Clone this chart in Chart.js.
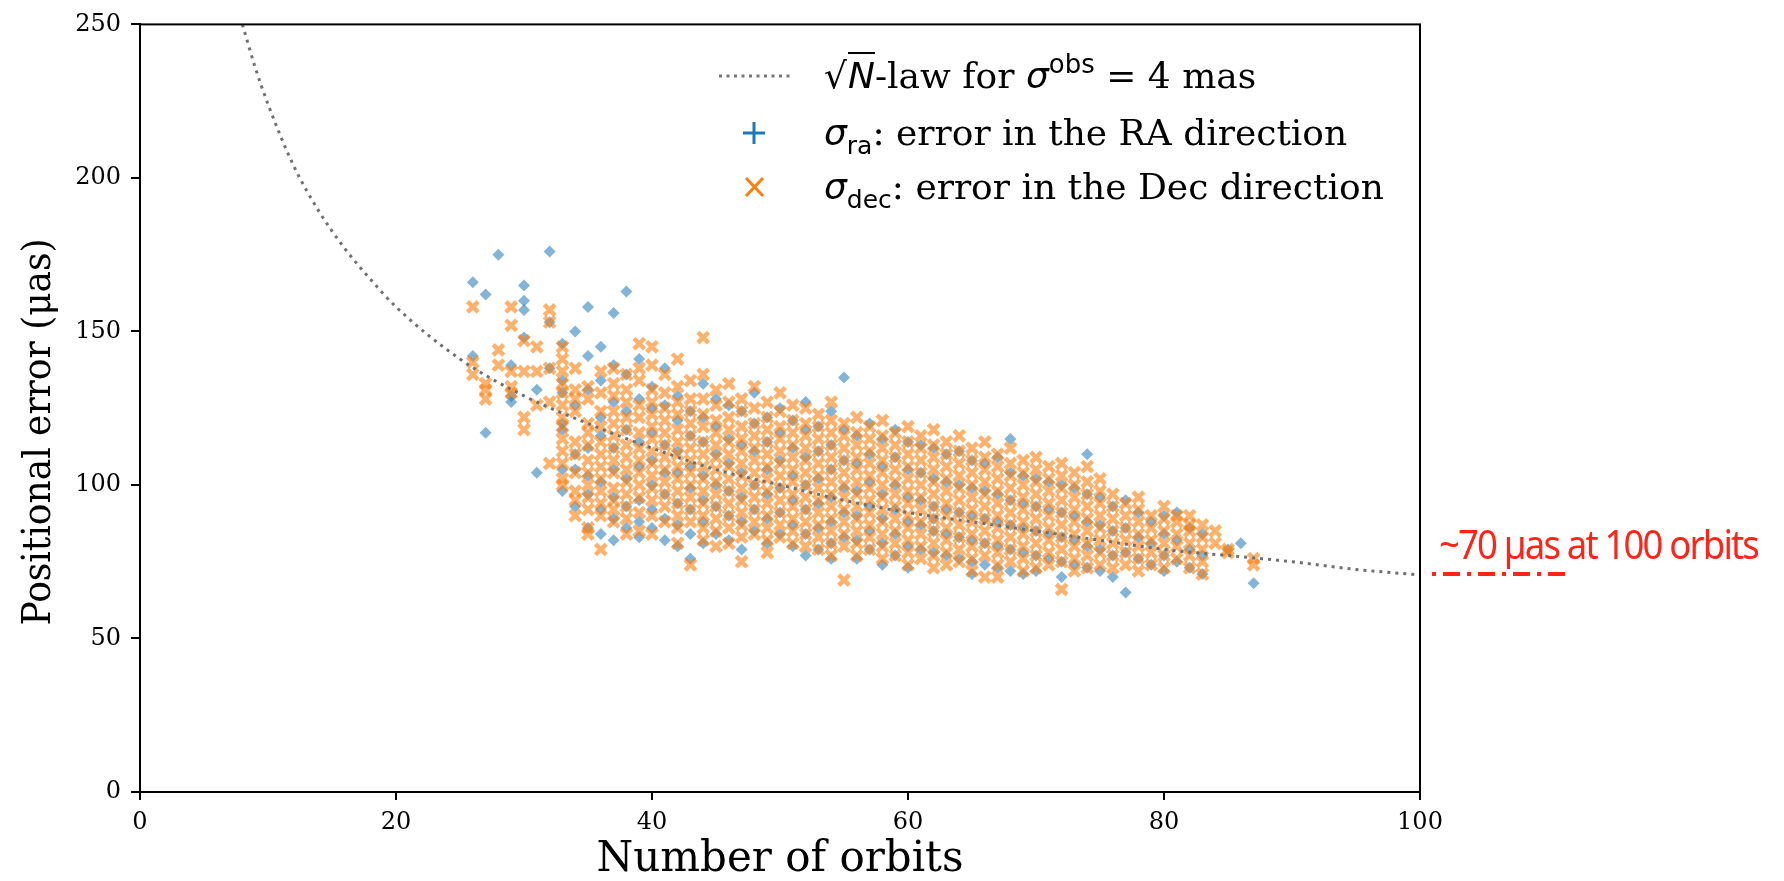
<!DOCTYPE html>
<html><head><meta charset="utf-8">
<script src="https://cdn.jsdelivr.net/npm/chart.js@4.4.1/dist/chart.umd.min.js"></script>
<style>
html,body{margin:0;padding:0;background:#fff;overflow:hidden;}
#wrap{position:relative;width:1784px;height:881px;}
#c{position:absolute;left:0;top:0;}
.leg{position:absolute;left:824px;height:44px;font-family:'DejaVu Serif';font-size:36px;line-height:44px;white-space:nowrap;color:#000;}
.m{font-family:'DejaVu Sans';font-style:italic;}
.sb{font-family:'DejaVu Sans';font-size:25px;line-height:0;vertical-align:-9px;}
.sp{font-family:'DejaVu Sans';font-size:26px;line-height:0;vertical-align:15px;}
.ov{border-top:2px solid #000;padding-top:1px;margin-left:1px;}
#anno{position:absolute;left:1439px;top:519px;color:#ff2318;font-family:'Noto Sans';font-size:40px;line-height:50px;white-space:nowrap;letter-spacing:-2px;transform-origin:0 50%;display:inline-block;}
</style></head>
<body>
<div id="wrap">
<canvas id="c" width="1784" height="881"></canvas>
<div class="leg" style="top:54px;">√<span class="m ov">N</span>-law for <span class="m">σ</span><span class="sp">obs</span> = 4 mas</div>
<div class="leg" style="top:111px;"><span class="m">σ</span><span class="sb">ra</span>: error in the RA direction</div>
<div class="leg" style="top:165px;"><span class="m">σ</span><span class="sb">dec</span>: error in the Dec direction</div>
<span id="anno">~70 µas at 100 orbits</span>
</div>
<script>
// ---- data ----
const orbits = [26,27,28,29,30,31,32,33,34,35,36,37,38,39,40,41,42,43,44,45,46,47,48,49,50,51,52,53,54,55,56,57,58,59,60,61,62,63,64,65,66,67,68,69,70,71,72,73,74,75,76,77,78,79,80,81,82,83,84,85,86,87];
const raErrors = [
 [166,142],[162,117],[175],[139,129,127],[165,160,157,148],[131,104],[176,153,138],
 [146,134,130,120,118,105,98],[150,126,110,105,93],[158,142,131,112,103,97,86],[145,134,122,116,101,92,84],
 [156,139,127,112,105,96,89,82],[163,136,124,118,102,93,86],[141,128,114,106,95,88,83],[132,125,117,108,100,92,86],
 [138,126,113,104,97,89,82],[129,121,111,104,94,87,80],[124,116,106,99,92,84,76],[133,122,114,103,95,88,81],
 [128,119,110,100,93,84],[126,115,107,98,90,82],[124,113,104,96,88,79],[130,120,111,100,92,85],
 [122,114,105,97,89,81],[125,117,108,99,91,84],[121,112,103,95,87,80],[127,118,109,100,92,84,77],
 [119,111,102,94,86,79],[124,113,105,96,88,81,76],[135,118,108,99,91,83],[116,107,98,90,82,76],
 [120,110,101,93,85,79],[115,106,97,89,81,74],[118,109,100,92,84,77],[114,105,96,88,80,73],
 [113,104,95,87,79],[112,102,93,89,85,78],[110,101,92,84,77],[111,100,91,83,76],
 [108,99,90,82,75,71],[107,98,89,81,74],[109,97,88,80,73],[115,104,95,87,79,72],
 [103,94,86,78,71],[102,93,85,77,72],[101,92,84,76],[100,91,83,75,70],
 [99,90,82,74],[110,97,88,80,73],[96,87,79,72],[93,85,77,70],
 [95,86,78,65],[91,83,76],[88,81,74],[90,84,77,72],[91,82,75],[86,79,73],[84,77,71],
 [],[79],[81],[68]
];
const decErrors = [
 [158,136,140],[131,128,133],[144,139],[158,152,137,132,130],[147,137,122,118],[137,126,145],[157,153,138,127,107],
 [145,141,137,133,130,126,122,119,115,111,107,102,100],[138,131,128,124,114,110,104,98,95,90],
 [132,128,120,117,113,108,104,100,96,92,86,84],[137,130,124,119,114,110,106,102,98,94,90,79],
 [138,133,129,124,120,116,112,108,104,99,95,92,88],[136,131,127,122,118,113,109,105,101,97,93,89,84],
 [146,138,134,126,122,117,112,108,104,100,96,91,85],[145,139,131,127,123,119,115,111,107,103,99,95,90,84],
 [136,130,125,121,117,113,109,105,101,97,93,88],[141,132,127,123,118,114,110,106,102,98,94,90,86,81],
 [134,128,124,120,116,112,108,104,100,96,92,88,74],[148,136,128,123,119,114,110,106,102,98,94,90,86,82],
 [131,126,121,117,113,109,105,101,97,93,89,85,80],[133,127,122,118,114,110,106,102,98,94,90,86,81],
 [128,124,119,115,111,107,103,99,95,91,87,83,75],[132,125,120,116,112,108,104,100,96,92,88,84],
 [127,122,118,114,110,106,102,98,94,90,86,82,78],[130,124,119,115,111,107,103,99,95,91,87,83],
 [126,121,117,113,109,105,101,97,93,89,85,81],[125,120,116,112,108,104,100,96,92,88,84,80],
 [123,119,115,111,107,103,99,95,91,87,83,79],[127,121,117,113,109,105,101,97,93,89,85,81,77],
 [120,116,112,108,104,100,96,92,88,84,80,69],[122,117,113,109,105,101,97,93,89,85,81,77],
 [119,115,111,107,103,99,95,91,87,83,79],[121,116,112,108,104,100,96,92,88,84,80,76],
 [117,113,109,105,101,97,93,89,85,81,77],[119,114,110,106,102,98,94,90,86,82,78,74],
 [116,112,108,104,100,96,92,88,84,80,76],[118,113,109,105,101,97,93,89,85,81,77,73],
 [114,110,106,102,98,94,90,86,82,78,74],[116,111,107,103,99,95,91,87,83,79,75],
 [112,108,104,100,96,92,88,84,80,76,72],[114,109,105,101,97,93,89,85,81,77,70],
 [110,106,102,98,94,90,86,82,78,74,70],[112,107,103,99,95,91,87,83,79,75],
 [108,104,100,96,92,88,84,80,76,72],[109,105,101,97,93,89,85,81,77,73],
 [106,102,98,94,90,86,82,78,74],[107,103,99,95,91,87,83,79,75,66],
 [104,100,96,92,88,84,80,76,72],[106,101,97,93,89,85,81,77,73],
 [102,98,94,90,86,82,78,74],[97,93,89,85,81,77,73],[94,90,86,82,78,74],[96,92,88,84,80,76,72],
 [90,86,82,78,74],[93,89,85,81,77,73],[90,88,84,80,76],[90,87,85,81,77,73],[87,83,79,75,71],
 [85,81],[79,78],[],[74,76]
];
// sqrt(N) law curve
const lawOrbits = [8,9,10,12,14,16,18,20,25,30,35,40,45,50,55,60,65,70,75,80,85,90,95,100];
const lawError  = [250,236,224,204,189,177,167,158,141,129,120,112,105,100,95,91,88,85,82,79,77,75,72.5,70.7];
const xTicks = [0,20,40,60,80,100];
const yTicks = [0,50,100,150,200,250];
const yTitle = 'Positional error (μas)';

const raPts = [], decPts = [];
orbits.forEach((n,i)=>{ raErrors[i].forEach(v=>raPts.push({x:n,y:v})); decErrors[i].forEach(v=>decPts.push({x:n,y:v})); });
const lawPts = lawOrbits.map((n,i)=>({x:n,y:lawError[i]}));

const extras = {
  id:'extras',
  afterDraw(chart){
    const ctx = chart.ctx, a = chart.chartArea;
    ctx.save();
    ctx.strokeStyle = '#000'; ctx.lineWidth = 2;
    ctx.strokeRect(a.left, a.top, a.right-a.left, a.bottom-a.top);
    // y axis title (drawn as text, condensed like the reference)
    ctx.save();
    ctx.translate(40, 432); ctx.rotate(-Math.PI/2); ctx.scale(0.9, 1);
    ctx.font = '40px "DejaVu Serif"'; ctx.fillStyle = '#000';
    ctx.textAlign = 'center'; ctx.textBaseline = 'middle';
    ctx.fillText(yTitle, 0, 0);
    ctx.restore();
    // legend markers
    ctx.strokeStyle = '#777'; ctx.lineWidth = 3; ctx.setLineDash([3,4.5]);
    ctx.beginPath(); ctx.moveTo(719,76); ctx.lineTo(792,76); ctx.stroke();
    ctx.setLineDash([]);
    ctx.strokeStyle = '#1f77b4'; ctx.lineWidth = 3;
    ctx.beginPath(); ctx.moveTo(743,133); ctx.lineTo(765,133); ctx.moveTo(754,122); ctx.lineTo(754,144); ctx.stroke();
    ctx.strokeStyle = '#ff7f0e';
    ctx.beginPath(); ctx.moveTo(746,178); ctx.lineTo(763,196); ctx.moveTo(763,178); ctx.lineTo(746,196); ctx.stroke();
    // red dash-dot marker line under annotation
    ctx.strokeStyle = '#ff2318'; ctx.lineWidth = 4; ctx.setLineDash([4,7,17,7]);
    ctx.beginPath(); ctx.moveTo(1432,574); ctx.lineTo(1568,574); ctx.stroke();
    ctx.restore();
  }
};

new Chart(document.getElementById('c'), {
  type:'scatter',
  data:{ datasets:[
    {type:'line', label:'law', data:lawPts, borderColor:'#707070', borderWidth:3, borderDash:[3,5], pointRadius:0, cubicInterpolationMode:'monotone', fill:false, order:0},
    {label:'dec', data:decPts, pointStyle:'crossRot', pointRadius:7.5, borderColor:'rgba(255,127,14,0.6)', borderWidth:4.5, backgroundColor:'rgba(255,127,14,0.6)', order:1},
    {label:'ra', data:raPts, pointStyle:'rectRot', pointRadius:6, backgroundColor:'rgba(31,119,180,0.55)', borderWidth:0, borderColor:'rgba(0,0,0,0)', order:2}
  ]},
  options:{
    responsive:false, animation:false, devicePixelRatio:1,
    layout:{padding:{left:0,right:364,top:19,bottom:0}},
    plugins:{legend:{display:false}, tooltip:{enabled:false}},
    scales:{
      x:{type:'linear', min:0, max:100, afterFit(s){s.height=89;},
         afterBuildTicks(s){s.ticks = xTicks.map(v=>({value:v}));},
         ticks:{font:{family:'DejaVu Serif',size:24}, color:'#000', padding:8},
         grid:{drawOnChartArea:false, drawTicks:true, tickLength:8, color:'#000', lineWidth:2},
         border:{display:true,color:'#000',width:2},
         title:{display:true, text:'Number of orbits', font:{family:'DejaVu Serif',size:42,lineHeight:1}, color:'#000', padding:{top:0,bottom:0}}},
      y:{min:0, max:250, afterFit(s){s.width=140;},
         afterBuildTicks(s){s.ticks = yTicks.map(v=>({value:v}));},
         ticks:{font:{family:'DejaVu Serif',size:24}, color:'#000', padding:10},
         grid:{drawOnChartArea:false, drawTicks:true, tickLength:9, color:'#000', lineWidth:2},
         border:{display:true,color:'#000',width:2},
         title:{display:false}}
    }
  },
  plugins:[extras]
});
const an = document.getElementById('anno');
an.style.transform = 'scaleX(' + (319/an.getBoundingClientRect().width) + ')';
</script>
</body></html>
